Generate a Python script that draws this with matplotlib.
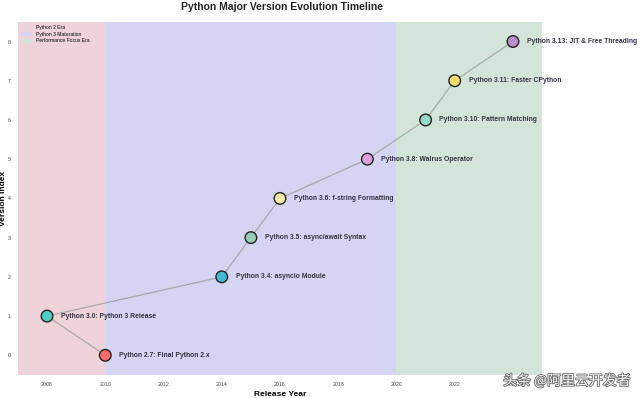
import matplotlib.pyplot as plt
import matplotlib.patheffects as pe
from matplotlib.patches import Patch

# versions in index order
versions = ['2.7', '3.0', '3.4', '3.5', '3.6', '3.8', '3.10', '3.11', '3.13']
years = [2010, 2008, 2014, 2015, 2016, 2019, 2021, 2022, 2024]
features = ['Final Python 2.x', 'Python 3 Release', 'asyncio Module',
            'async/await Syntax', 'f-string Formatting', 'Walrus Operator',
            'Pattern Matching', 'Faster CPython', 'JIT & Free Threading']
point_colors = ['#FF6B6B', '#4ECDC4', '#45B7D1', '#96CEB4', '#FFEAA7',
                '#DDA0DD', '#98D8C8', '#F7DC6F', '#BB8FCE']

eras = ['Python 2 Era', 'Python 3 Maturation', 'Performance Focus Era']
era_start = [2007, 2010, 2020]
era_end = [2010, 2020, 2025]
era_colors = ['#eed3d8', '#d5d5f3', '#d3e4d8']

plt.rcParams['font.family'] = ['Liberation Sans', 'DejaVu Sans']

fig = plt.figure(figsize=(6.4, 3.98), dpi=100)
ax = fig.add_axes([0.028, 0.058, 0.819, 0.887])

for name, s, e, c in zip(eras, era_start, era_end, era_colors):
    ax.axvspan(s, e, color=c, zorder=0)

idx = list(range(len(versions)))
ax.plot(years, idx, color='#888888', alpha=0.6, linewidth=0.9, zorder=2)
ax.scatter(years, idx, s=70, c=point_colors, edgecolors='#222222',
           linewidths=1.0, zorder=3)

for y, i, v, f in zip(years, idx, versions, features):
    ax.annotate(f'Python {v}: {f}', (y, i), xytext=(10, 0),
                textcoords='offset points', va='center', ha='left',
                fontsize=4.9, fontweight='bold', color='#333344')

ax.set_xlim(2007, 2025)
ax.set_ylim(-0.5, 8.5)
ax.set_xticks(range(2008, 2025, 2))
ax.set_yticks(idx)
ax.tick_params(labelsize=3.8, length=0, colors='#444444', pad=5)
ax.set_xlabel('Release Year', fontsize=6, fontweight='bold', labelpad=3)
ax.set_ylabel('Version Index', fontsize=6, fontweight='bold')
ax.yaxis.set_label_coords(-0.021, 0.5)
fig.suptitle('Python Major Version Evolution Timeline', x=0.44, y=0.995,
             fontsize=7.5, fontweight='bold', color='#222222')
for sp in ax.spines.values():
    sp.set_visible(False)

handles = [Patch(facecolor=c, label=n) for n, c in zip(eras, era_colors)]
ax.legend(handles=handles, loc='upper left', fontsize=3.6, frameon=False,
          handlelength=2.2, handleheight=0.9, borderaxespad=0.3,
          labelspacing=0.3)

fig.text(0.985, 0.025, '头条 @阿里云开发者', ha='right', va='bottom',
         fontsize=10, color='white', family=['Noto Sans CJK SC', 'DejaVu Sans'],
         path_effects=[pe.withStroke(linewidth=1.2, foreground='#666666')])

fig.savefig('out.png', dpi=100)
